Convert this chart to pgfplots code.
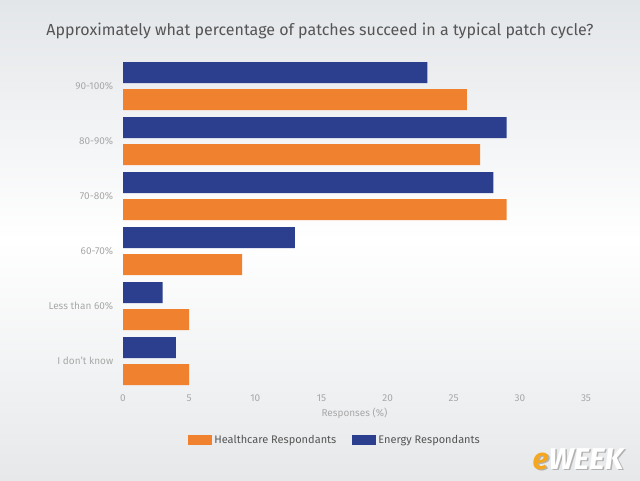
\documentclass[border=0pt]{standalone}
\usepackage{pgfplots}
\pgfplotsset{compat=1.18}
\usepackage{fontspec}
\setmainfont{Fira Sans}
\definecolor{eblue}{HTML}{2B3F8E}
\definecolor{horange}{HTML}{F0812E}
\definecolor{tickc}{HTML}{A8A8A8}
\definecolor{ttl}{HTML}{555555}
\definecolor{bgtop}{HTML}{E3E6E9}
\definecolor{bgbot}{HTML}{E6E8EA}
\begin{document}
\begin{tikzpicture}[x=1pt,y=1pt]
\shade[top color=bgtop, bottom color=bgbot, middle color=white] (0,0) rectangle (640,480);
\node[text=ttl, font=\fontsize{16}{18}\selectfont] at (320,449) {Approximately what percentage of patches succeed in a typical patch cycle?};
\begin{axis}[at={(123pt,92pt)}, anchor=south west, scale only axis,
  width=463pt, height=330pt,
  xmin=0, xmax=35, ymin=-0.49, ymax=5.51,
  xbar, bar width=21pt,
  axis line style={draw=none}, tick style={draw=none},
  xtick={0,5,...,35},
  ytick={0,1,2,3,4,5},
  yticklabels={I don't know, Less than 60\%, 60-70\%, 70-80\%, 80-90\%, 90-100\%},
  /pgf/number format/assume math mode=true,
  tick label style={font=\fontsize{10}{11}\selectfont, text=tickc},
  xticklabel style={yshift=-3pt},
  yticklabel style={xshift=-2pt},
  xlabel={Responses (\%)},
  xlabel style={font=\fontsize{10}{11}\selectfont, text=tickc, yshift=0pt},
  legend columns=2,
  legend style={at={(0.458,-0.158)}, anchor=center, draw=none, fill=none,
    font=\fontsize{11}{12}\selectfont, text=ttl,
    /tikz/every even column/.append style={column sep=14pt}},
  legend image code/.code={\fill[#1] (0pt,-4.5pt) rectangle (24pt,5pt);},
]
\addplot[fill=horange, draw=none, bar shift=-13.5pt] coordinates {(26,5) (27,4) (29,3) (9,2) (5,1) (5,0)};
\addlegendentry{Healthcare Respondants}
\addplot[fill=eblue, draw=none, bar shift=13.5pt] coordinates {(23,5) (29,4) (28,3) (13,2) (3,1) (4,0)};
\addlegendentry{Energy Respondants}
\end{axis}
\node[font=\fontsize{30}{32}\bfseries\itshape\selectfont, text=gray!60, xshift=1.5pt, yshift=-1.5pt] at (578,21) {eWEEK};
\node[font=\fontsize{30}{32}\bfseries\itshape\selectfont] at (578,21) {\textcolor{horange!70!yellow}{e}\textcolor{white}{WEEK}};
\end{tikzpicture}
\end{document}
